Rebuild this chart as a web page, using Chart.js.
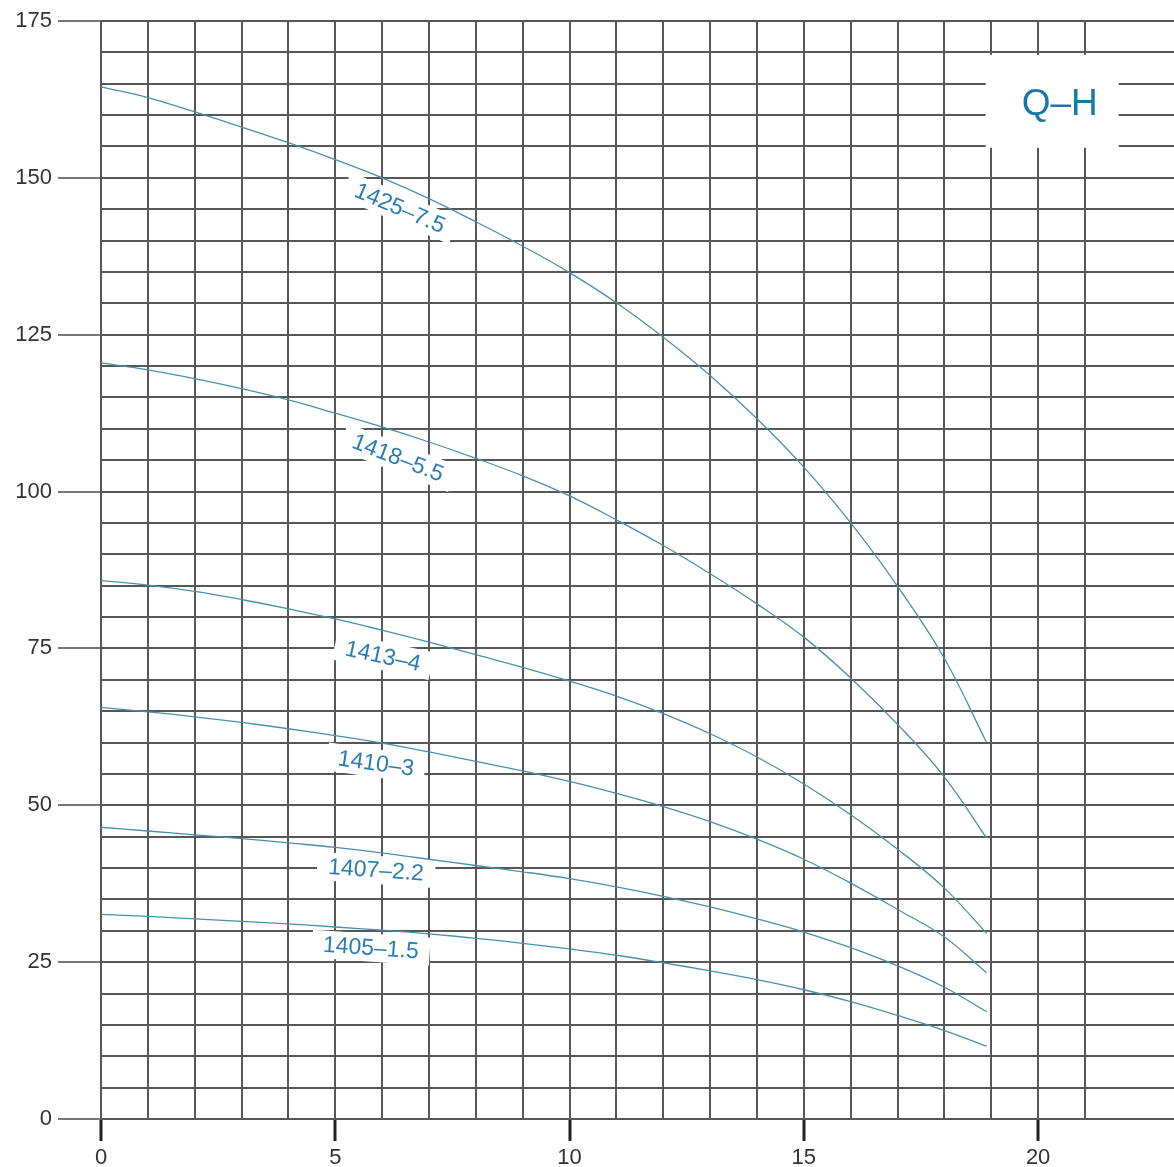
<!DOCTYPE html>
<html lang="en">
<head>
    <meta charset="UTF-8">
    <title>Q-H</title>
    <script src="https://cdn.jsdelivr.net/npm/chart.js"></script>
    <style>
        html, body { margin: 0; padding: 0; background: #fff; }
        .wrap { width: 1174px; height: 1167px; position: relative; }
    </style>
</head>
<body>
<div class="wrap"><canvas id="qhChart"></canvas></div>

<script>
    // flow Q, same points for every curve (curves stop at 18.9)
    const flow = [0, 1, 2, 3, 4, 5, 6, 7, 8, 9, 10, 11, 12, 13, 14, 15, 16, 17, 18, 18.9];

    // head H for each pump
    const head1425 = [164.5, 162.8, 160.5, 158.1, 155.6, 152.9, 150.0, 146.7, 143.0, 139.1, 134.9, 130.1, 124.6, 118.5, 111.6, 103.9, 95.0, 84.9, 73.4, 60];
    const head1418 = [120.5, 119.4, 118.0, 116.4, 114.6, 112.5, 110.3, 107.9, 105.3, 102.5, 99.3, 95.5, 91.4, 86.9, 82.1, 76.8, 70.3, 62.9, 54.5, 44.8];
    const head1413 = [85.8, 85.1, 84.1, 82.8, 81.3, 79.7, 77.9, 76.0, 74.0, 72.0, 69.8, 67.4, 64.6, 61.4, 57.7, 53.4, 48.5, 43.0, 36.8, 29.6];
    const head1410 = [65.6, 64.9, 64.1, 63.2, 62.2, 61.1, 59.9, 58.5, 57.0, 55.5, 53.8, 51.9, 49.8, 47.4, 44.6, 41.4, 37.6, 33.4, 29.0, 23.3];
    const head1407 = [46.5, 45.9, 45.3, 44.7, 44.0, 43.3, 42.4, 41.4, 40.4, 39.4, 38.3, 37.0, 35.5, 33.8, 31.9, 29.8, 27.3, 24.4, 21.0, 17.1];
    const head1405 = [32.6, 32.3, 31.9, 31.5, 31.1, 30.6, 30.1, 29.5, 28.8, 28.0, 27.1, 26.1, 24.9, 23.6, 22.2, 20.6, 18.7, 16.5, 14.1, 11.6];

    const pumpNames = ['1425–7.5', '1418–5.5', '1413–4', '1410–3', '1407–2.2', '1405–1.5'];
    const heads = [head1425, head1418, head1413, head1410, head1407, head1405];

    const xMax = 22.9, yMax = 175;
    const xLabelEvery = 5, yLabelEvery = 25;

    // where the curve names sit (data units) and their tilt in degrees
    const tagSpots = [
        { q: 6.38, h: 145.2, angle: 23 },
        { q: 6.34, h: 105.4, angle: 21 },
        { q: 6.02, h: 73.8, angle: 12 },
        { q: 5.87, h: 56.7, angle: 8 },
        { q: 5.87, h: 39.7, angle: 4 },
        { q: 5.76, h: 27.3, angle: 4 }
    ];

    const curveColor = '#4a90ab';
    const textBlue = '#2a7db0';
    const gridColor = '#575757';

    const tagsPlugin = {
        id: 'curveTags',
        beforeDatasetsDraw(chart) {
            const { ctx, scales: { x, y } } = chart;
            ctx.save();
            ctx.font = '23px "Liberation Sans", Arial, sans-serif';
            ctx.textAlign = 'center';
            ctx.textBaseline = 'middle';
            tagSpots.forEach((t, i) => {
                const px = x.getPixelForValue(t.q);
                const py = y.getPixelForValue(t.h);
                const w = ctx.measureText(pumpNames[i]).width + 22;
                ctx.save();
                ctx.translate(px, py);
                ctx.rotate(t.angle * Math.PI / 180);
                ctx.fillStyle = '#fff';
                ctx.fillRect(-w / 2, -14, w, 28);
                ctx.fillStyle = textBlue;
                ctx.fillText(pumpNames[i], 0, 1);
                ctx.restore();
            });

            // Q-H title box
            const bx1 = x.getPixelForValue(18.88), bx2 = x.getPixelForValue(21.72);
            const by1 = y.getPixelForValue(169.6), by2 = y.getPixelForValue(154.8);
            ctx.fillStyle = '#fff';
            ctx.fillRect(bx1, by1, bx2 - bx1, by2 - by1);
            ctx.fillStyle = '#1a78a8';
            ctx.font = '37px "Liberation Sans", Arial, sans-serif';
            ctx.fillText('Q–H', x.getPixelForValue(20.46), y.getPixelForValue(161.9) + 2);
            ctx.restore();
        }
    };

    const ctx = document.getElementById('qhChart').getContext('2d');
    const qhChart = new Chart(ctx, {
        type: 'line',
        data: {
            datasets: heads.map((h, i) => ({
                label: pumpNames[i],
                data: flow.map((q, j) => ({ x: q, y: h[j] })),
                borderColor: curveColor,
                borderWidth: 1.3,
                pointRadius: 0,
                fill: false,
                tension: 0.4
            }))
        },
        options: {
            responsive: true,
            maintainAspectRatio: false,
            animation: false,
            layout: { padding: { top: 21, left: 0, right: 0, bottom: 0 } },
            plugins: {
                legend: { display: false },
                tooltip: { enabled: false }
            },
            scales: {
                x: {
                    type: 'linear',
                    min: 0,
                    max: xMax,
                    afterBuildTicks: s => { s.ticks = s.ticks.filter(t => Number.isInteger(t.value)); },
                    afterFit: s => { s.height = 48; },
                    ticks: {
                        stepSize: 1,
                        autoSkip: false,
                        maxRotation: 0,
                        padding: 4,
                        color: '#333',
                        font: { family: '"Liberation Sans", Arial, sans-serif', size: 22 },
                        callback: v => (v % xLabelEvery === 0 ? v : '')
                    },
                    grid: {
                        color: gridColor,
                        lineWidth: 2,
                        tickLength: 22,
                        tickWidth: 3,
                        tickColor: c => (c.tick && c.tick.value % xLabelEvery === 0 ? '#222' : 'rgba(0,0,0,0)')
                    },
                    border: { color: gridColor, width: 2 }
                },
                y: {
                    type: 'linear',
                    min: 0,
                    max: yMax,
                    afterFit: s => { s.width = 101; },
                    ticks: {
                        stepSize: 5,
                        autoSkip: false,
                        padding: 6,
                        color: '#333',
                        font: { family: '"Liberation Sans", Arial, sans-serif', size: 22 },
                        callback: v => (v % yLabelEvery === 0 ? v : '')
                    },
                    grid: {
                        color: gridColor,
                        lineWidth: 2,
                        tickLength: 43,
                        tickWidth: 2,
                        tickColor: c => (c.tick && c.tick.value % yLabelEvery === 0 ? '#777' : 'rgba(0,0,0,0)')
                    },
                    border: { color: gridColor, width: 2 }
                }
            }
        },
        plugins: [tagsPlugin]
    });
</script>
</body>
</html>
